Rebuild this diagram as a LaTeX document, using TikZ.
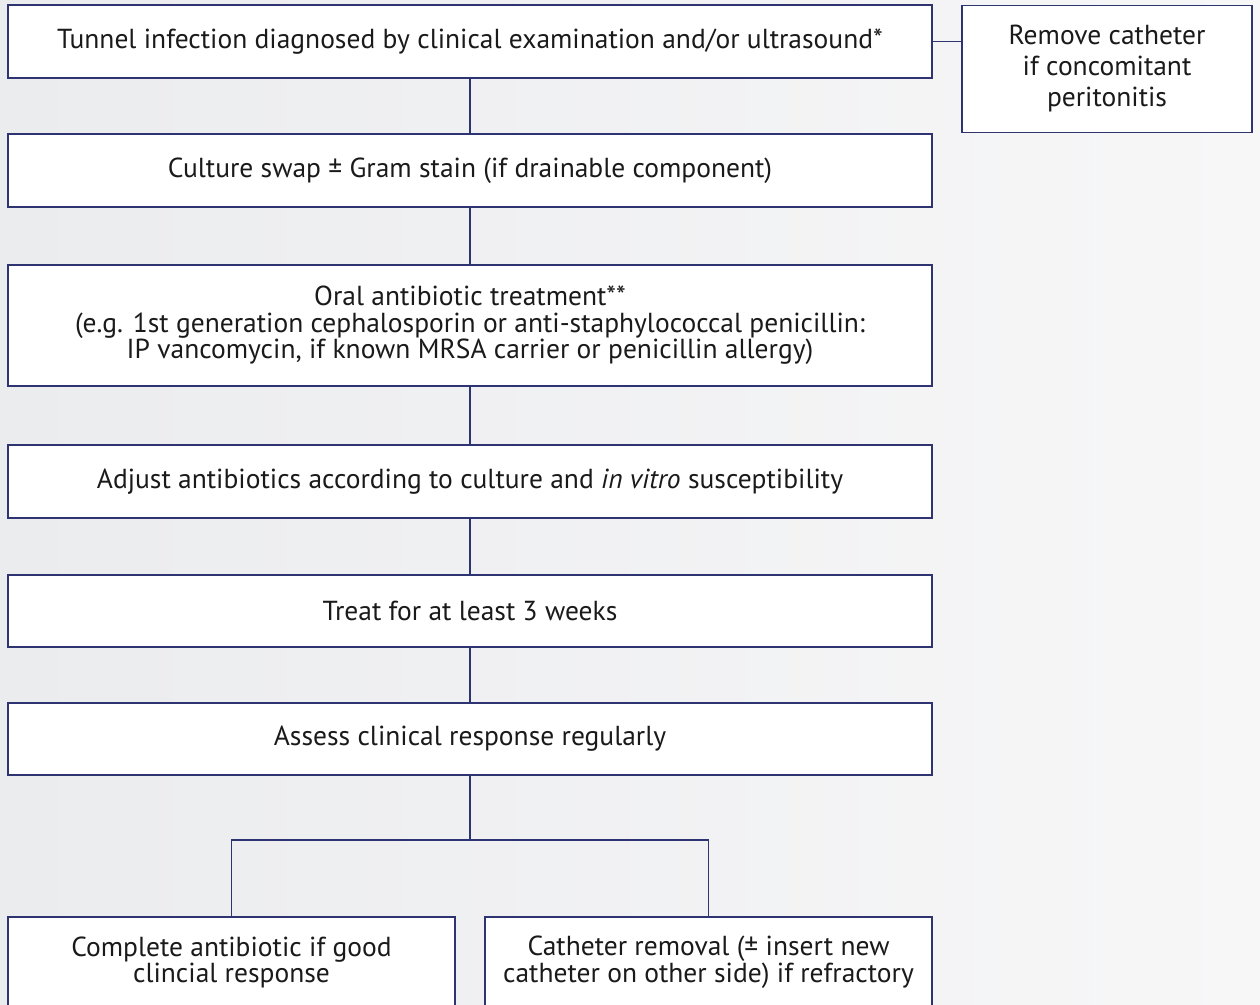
\documentclass[tikz,border=0pt]{standalone}
\usepackage{fontspec}
\setmainfont{PT Sans}
\definecolor{navy}{HTML}{2E3472}
\definecolor{ink}{HTML}{1A1A1A}
\definecolor{bgleft}{HTML}{EBECEE}
\definecolor{bgright}{HTML}{F7F7F8}
\begin{document}
\begin{tikzpicture}[x=1pt,y=-1pt,
  box/.style={draw=navy, line width=1.4pt, fill=white, inner sep=0pt,
    text=ink, align=center, font=\fontsize{27.5}{26.5}\selectfont},
  wide/.style={box, minimum width=924pt},
  half/.style={box, minimum width=447pt, minimum height=91pt,
    font=\fontsize{27.5}{25.5}\selectfont},
  link/.style={draw=navy, line width=1.3pt}]
% page background
\shade[left color=bgleft, right color=bgright] (0,0) rectangle (1260,1004);
\useasboundingbox (0,0) rectangle (1260,1004);

% main column
\node[wide, minimum height=73pt] (diag) at (470,41.5)
  {Tunnel infection diagnosed by clinical examination and/or ultrasound*};
\node[box, minimum width=290pt, minimum height=127pt,
  font=\fontsize{27.5}{31}\selectfont] (remove) at (1107,69)
  {Remove catheter\\if concomitant\\peritonitis};
\node[wide, minimum height=73pt] (culture) at (470,170.5)
  {Culture swap ± Gram stain (if drainable component)};
\node[wide, minimum height=121pt] (oral) at (470,325.5)
  {Oral antibiotic treatment**\\
   (e.g. 1st generation cephalosporin or anti-staphylococcal penicillin:\\
   IP vancomycin, if known MRSA carrier or penicillin allergy)};
\node[wide, minimum height=73pt] (adjust) at (470,481.5)
  {Adjust antibiotics according to culture and \emph{in vitro} susceptibility};
\node[wide, minimum height=72pt] (treat) at (470,611)
  {Treat for at least 3 weeks};
\node[wide, minimum height=72pt] (assess) at (470,739)
  {Assess clinical response regularly};
\node[half] (complete) at (231.5,962.5)
  {Complete antibiotic if good\\clincial response};
\node[half] (removal) at (708.5,962.5)
  {Catheter removal (± insert new\\catheter on other side) if refractory};

% connectors
\draw[link] (diag.east) -- (remove.west |- diag.east);
\draw[link] (diag) -- (culture);
\draw[link] (culture) -- (oral);
\draw[link] (oral) -- (adjust);
\draw[link] (adjust) -- (treat);
\draw[link] (treat) -- (assess);
\coordinate (split) at (470,840);
\draw[link] (assess) -- (split);
\draw[link] (complete.north) |- (split) -| (removal.north);
\end{tikzpicture}
\end{document}
